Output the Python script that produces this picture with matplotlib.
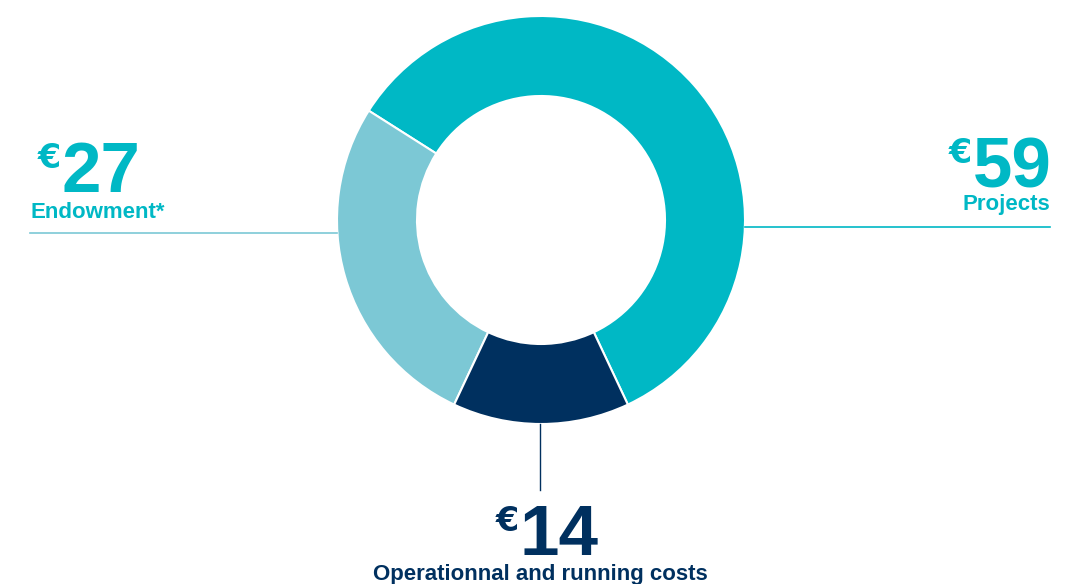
import matplotlib
matplotlib.use("Agg")
from matplotlib import pyplot as plt

# data
labels = ["Projects", "Endowment*", "Operationnal and running costs"]
values = [59, 27, 14]
amounts = ["59", "27", "14"]
colors = ["#00B8C5", "#7CC8D5", "#00305F"]

W, H = 1075, 584
fig = plt.figure(figsize=(W / 100, H / 100), dpi=100)
ax = fig.add_axes([0, 0, 1, 1])

cx, cy = 541, H - 220
r_out, r_in = 204, 124

# put the small slice centred at the bottom
start = 270 + values[2] / sum(values) * 360 / 2
ax.pie(values, colors=colors, startangle=start, counterclock=True,
       center=(cx, cy), radius=r_out,
       wedgeprops=dict(width=r_out - r_in, edgecolor="white", linewidth=1.5))

ax.set_xlim(0, W)
ax.set_ylim(0, H)
ax.set_aspect("equal")
ax.axis("off")

big = dict(family="Liberation Sans", weight="bold", fontsize=51)
euro = dict(family="DejaVu Sans", weight="bold", fontsize=24)
lab = dict(family="Liberation Sans", weight="bold", fontsize=16)

fig.canvas.draw()
renderer = fig.canvas.get_renderer()


def amount(x, y_base, txt, color, align):
    """digits with a small euro sign at top-left"""
    t = ax.text(x, H - y_base, txt, color=color, ha=align, va="baseline", **big)
    bb = t.get_window_extent(renderer).transformed(ax.transData.inverted())
    ax.text(bb.x0 - 1, H - y_base + 50, "€", color=color, ha="right", va="top", **euro)


# Endowment (left)
amount(62, 192, amounts[1], colors[0], "left")
ax.text(30, H - 218, labels[1], color=colors[0], ha="left", va="baseline", **lab)
ax.plot([30, cx - r_out], [H - 233, H - 233], color=colors[1], lw=1.2)

# Projects (right)
amount(1052, 187, amounts[0], colors[0], "right")
ax.text(1050, H - 210, labels[0], color=colors[0], ha="right", va="baseline", **lab)
ax.plot([cx + r_out, 1050], [H - 227, H - 227], color=colors[0], lw=1.2)

# Operational (bottom)
amount(520, 555, amounts[2], colors[2], "left")
ax.text(540, H - 580, labels[2], color=colors[2], ha="center", va="baseline", **lab)
ax.plot([540, 540], [H - 424, H - 490], color=colors[2], lw=1)

fig.savefig("out.png", dpi=100)
